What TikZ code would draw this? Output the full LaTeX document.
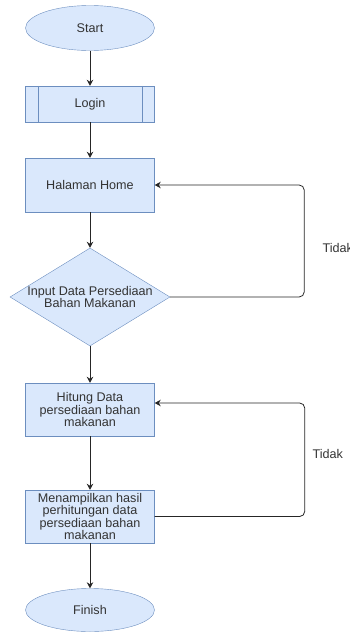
\documentclass[tikz,border=0pt]{standalone}
\usepackage{fontspec}
\setmainfont{Liberation Sans}
\usepackage{xcolor}
\usepackage{tikz}
\usetikzlibrary{shapes.geometric,arrows.meta}
\definecolor{boxfill}{HTML}{DAE8FC}
\definecolor{boxline}{HTML}{6C8EBF}
\definecolor{txt}{HTML}{333333}

\begin{document}
\begin{tikzpicture}[x=1pt,y=-1pt,
  every node/.style={font=\fontsize{12.6}{12.6}\selectfont,text=txt,align=center},
  term/.style={ellipse,draw=boxline,fill=boxfill,minimum width=129pt,minimum height=45pt,inner sep=0pt},
  proc/.style={rectangle,draw=boxline,fill=boxfill,minimum width=129pt,inner sep=0pt},
  decision/.style={diamond,draw=boxline,fill=boxfill,minimum width=160pt,minimum height=98pt,inner sep=0pt},
  arr/.style={-{Stealth[length=6pt,width=6.5pt]},black!85,line width=0.8pt}]
\useasboundingbox (0,0) rectangle (350,632);
\node[term] (start) at (90,28) {Start};
\node[proc,minimum height=36pt] (login) at (90,104) {Login};
\draw[boxline] ([xshift=13pt]login.north west)--([xshift=13pt]login.south west); \draw[boxline] ([xshift=-13pt]login.north east)--([xshift=-13pt]login.south east);
\node[proc,minimum height=54pt] (home) at (90,185) {Halaman Home};
\node[decision,label={[align=center]center:Input Data Persediaan\\Bahan Makanan}] (input) at (90,297) {};
\node[proc,minimum height=53pt] (hitung) at (90,409.5) {Hitung Data\\persediaan bahan\\makanan};
\node[proc,minimum height=53pt] (tampil) at (90,516.5) {Menampilkan hasil\\perhitungan data\\persediaan bahan\\makanan};
\node[term,minimum height=43pt] (finish) at (90,610) {Finish};
% alur utama
\draw[arr] (start)--(login); \draw[arr] (login)--(home); \draw[arr] (home)--(input);
\draw[arr] (input)--(hitung); \draw[arr] (hitung)--(tampil); \draw[arr] (tampil)--(finish);
% perulangan
\draw[arr,rounded corners=5pt] (input.east)--++(134,0)|-(home.east);
\draw[arr,rounded corners=5pt] (tampil.east)--++(150,0)|-([yshift=6.5pt]hitung.east);
\node[anchor=west] (tidak1) at (319,248) {Tidak};
\node[anchor=west] (tidak2) at (309,454) {Tidak};
\end{tikzpicture}
\end{document}
